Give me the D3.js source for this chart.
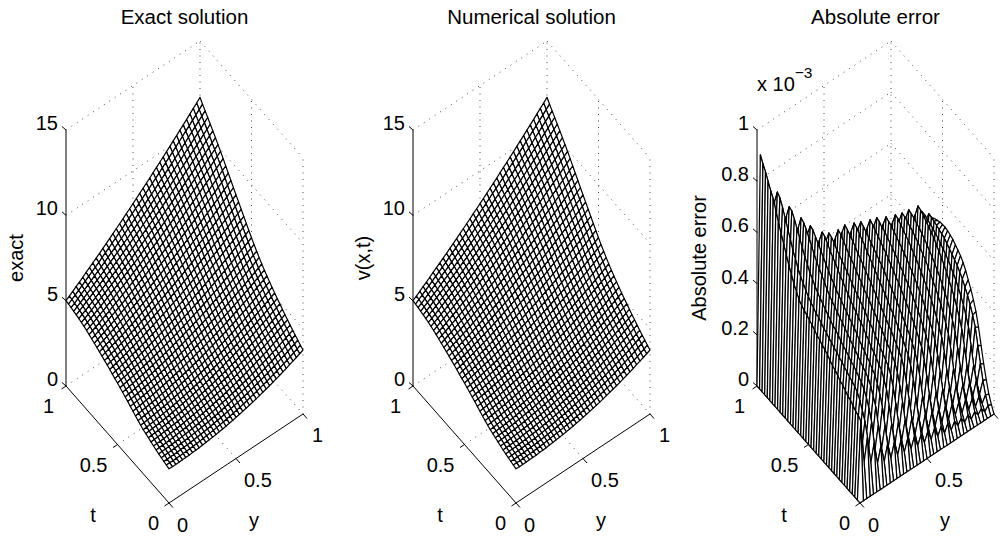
<!DOCTYPE html>
<html>
<head>
<meta charset="utf-8">
<script src="https://cdn.jsdelivr.net/npm/d3@7"></script>
<style>
html, body { margin: 0; padding: 0; background: #fff; }
svg { display: block; }
text { font-family: "Liberation Sans", Arial, sans-serif; fill: #000; }
</style>
</head>
<body>
<svg id="chart" width="1001" height="539"></svg>
<script>
var tTickValues = [0, 0.5, 1];
var yTickValues = [0, 0.5, 1];
var exactTicks = [0, 5, 10, 15];
var errorTicks = [0, 0.2, 0.4, 0.6, 0.8, 1];
var tGrid = [0,.025,.05,.075,.1,.125,.15,.175,.2,.225,.25,.275,.3,.325,.35,.375,.4,.425,.45,.475,.5,.525,.55,.575,.6,.625,.65,.675,.7,.725,.75,.775,.8,.825,.85,.875,.9,.925,.95,.975,1];
var yGrid = [0,.025,.05,.075,.1,.125,.15,.175,.2,.225,.25,.275,.3,.325,.35,.375,.4,.425,.45,.475,.5,.525,.55,.575,.6,.625,.65,.675,.7,.725,.75,.775,.8,.825,.85,.875,.9,.925,.95,.975,1];

// surface heights, one row per t, left to right along y
var exactRows = [
[2.00,2.00,2.00,2.00,2.01,2.01,2.02,2.04,2.05,2.06,2.09,2.11,2.14,2.16,2.18,2.22,2.25,2.28,2.33,2.36,2.41,2.45,2.50,2.55,2.60,2.65,2.71,2.77,2.84,2.90,2.96,3.03,3.10,3.17,3.25,3.32,3.41,3.49,3.57,3.66,3.75],
[2.05,2.05,2.05,2.06,2.06,2.07,2.08,2.10,2.11,2.13,2.15,2.18,2.20,2.23,2.26,2.29,2.33,2.36,2.40,2.44,2.49,2.53,2.58,2.63,2.68,2.74,2.80,2.86,2.92,2.98,3.05,3.12,3.19,3.26,3.34,3.42,3.50,3.58,3.67,3.76,3.86],
[2.09,2.09,2.10,2.10,2.11,2.13,2.14,2.15,2.17,2.19,2.22,2.24,2.27,2.30,2.33,2.37,2.41,2.44,2.48,2.53,2.58,2.62,2.67,2.73,2.78,2.84,2.90,2.96,3.03,3.09,3.15,3.23,3.31,3.38,3.46,3.54,3.63,3.71,3.80,3.89,3.98],
[2.14,2.145,2.15,2.16,2.17,2.19,2.20,2.22,2.24,2.26,2.29,2.32,2.35,2.38,2.41,2.45,2.49,2.53,2.57,2.62,2.67,2.72,2.77,2.83,2.88,2.94,3.00,3.07,3.13,3.20,3.27,3.34,3.42,3.49,3.58,3.66,3.74,3.83,3.92,4.01,4.10],
[2.19,2.20,2.21,2.22,2.23,2.25,2.27,2.29,2.31,2.33,2.36,2.39,2.42,2.45,2.49,2.53,2.57,2.61,2.66,2.71,2.76,2.81,2.86,2.92,2.98,3.04,3.10,3.17,3.23,3.30,3.38,3.45,3.53,3.61,3.69,3.77,3.86,3.95,4.03,4.13,4.22],
[2.25,2.26,2.27,2.28,2.30,2.32,2.34,2.36,2.39,2.41,2.44,2.47,2.51,2.54,2.58,2.62,2.66,2.71,2.76,2.80,2.85,2.91,2.96,3.02,3.08,3.15,3.21,3.28,3.35,3.42,3.50,3.57,3.65,3.73,3.81,3.90,3.99,4.07,4.16,4.26,4.35],
[2.31,2.32,2.335,2.35,2.37,2.39,2.41,2.44,2.46,2.49,2.53,2.56,2.60,2.63,2.67,2.71,2.76,2.81,2.85,2.91,2.96,3.02,3.07,3.13,3.19,3.26,3.33,3.40,3.47,3.54,3.62,3.69,3.77,3.85,3.94,4.03,4.12,4.21,4.30,4.39,4.49],
[2.38,2.39,2.41,2.43,2.45,2.47,2.50,2.52,2.55,2.58,2.62,2.65,2.69,2.73,2.77,2.82,2.86,2.91,2.96,3.01,3.07,3.13,3.18,3.24,3.31,3.37,3.44,3.51,3.58,3.65,3.73,3.81,3.89,3.98,4.06,4.15,4.24,4.33,4.43,4.52,4.62],
[2.45,2.47,2.48,2.50,2.53,2.55,2.58,2.61,2.64,2.67,2.70,2.74,2.78,2.82,2.87,2.91,2.96,3.01,3.06,3.12,3.17,3.23,3.30,3.36,3.42,3.49,3.56,3.63,3.71,3.78,3.86,3.94,4.02,4.11,4.19,4.28,4.37,4.47,4.56,4.66,4.76],
[2.52,2.54,2.56,2.58,2.61,2.63,2.66,2.69,2.73,2.76,2.80,2.84,2.88,2.92,2.97,3.02,3.07,3.12,3.18,3.23,3.29,3.35,3.42,3.48,3.55,3.62,3.69,3.77,3.84,3.92,4.00,4.08,4.17,4.25,4.34,4.43,4.52,4.62,4.72,4.81,4.91],
[2.58,2.60,2.62,2.65,2.68,2.71,2.74,2.77,2.81,2.84,2.88,2.92,2.97,3.01,3.06,3.11,3.16,3.22,3.28,3.34,3.40,3.46,3.52,3.59,3.66,3.73,3.80,3.88,3.95,4.03,4.12,4.20,4.29,4.37,4.46,4.55,4.65,4.75,4.85,4.95,5.05],
[2.67,2.69,2.72,2.75,2.77,2.81,2.84,2.87,2.91,2.95,2.99,3.04,3.08,3.13,3.18,3.23,3.29,3.34,3.40,3.46,3.52,3.59,3.65,3.72,3.79,3.86,3.94,4.01,4.09,4.17,4.26,4.34,4.43,4.52,4.61,4.71,4.80,4.90,5.00,5.10,5.20],
[2.77,2.79,2.82,2.85,2.88,2.92,2.95,2.99,3.03,3.07,3.11,3.16,3.20,3.25,3.31,3.36,3.42,3.47,3.53,3.59,3.66,3.72,3.79,3.86,3.93,4.01,4.08,4.16,4.24,4.32,4.41,4.49,4.58,4.67,4.76,4.86,4.95,5.05,5.15,5.26,5.36],
[2.87,2.90,2.93,2.96,2.99,3.02,3.06,3.10,3.14,3.18,3.23,3.28,3.32,3.38,3.43,3.48,3.54,3.60,3.66,3.72,3.79,3.86,3.93,4.00,4.08,4.15,4.23,4.31,4.39,4.47,4.56,4.65,4.74,4.83,4.92,5.02,5.12,5.22,5.32,5.42,5.52],
[2.98,3.01,3.04,3.07,3.11,3.14,3.18,3.22,3.27,3.31,3.36,3.41,3.46,3.51,3.56,3.62,3.68,3.74,3.80,3.87,3.94,4.00,4.07,4.15,4.22,4.30,4.38,4.46,4.54,4.63,4.72,4.81,4.90,4.99,5.08,5.18,5.28,5.38,5.48,5.58,5.69],
[3.09,3.12,3.15,3.19,3.22,3.26,3.30,3.34,3.39,3.43,3.48,3.53,3.59,3.64,3.70,3.75,3.81,3.88,3.94,4.01,4.08,4.15,4.22,4.30,4.37,4.45,4.53,4.62,4.70,4.79,4.87,4.97,5.06,5.15,5.25,5.35,5.45,5.55,5.65,5.76,5.86],
[3.20,3.23,3.27,3.30,3.35,3.39,3.43,3.47,3.52,3.57,3.62,3.67,3.73,3.78,3.84,3.90,3.97,4.03,4.10,4.16,4.23,4.31,4.38,4.46,4.54,4.62,4.70,4.78,4.87,4.95,5.04,5.14,5.23,5.33,5.42,5.52,5.62,5.73,5.83,5.94,6.05],
[3.30,3.34,3.37,3.41,3.46,3.50,3.55,3.59,3.64,3.70,3.75,3.80,3.86,3.92,3.98,4.05,4.11,4.18,4.25,4.32,4.39,4.47,4.54,4.62,4.70,4.78,4.87,4.95,5.04,5.13,5.23,5.32,5.42,5.51,5.61,5.72,5.82,5.93,6.03,6.14,6.25],
[3.40,3.44,3.48,3.52,3.57,3.62,3.66,3.71,3.77,3.82,3.88,3.94,4.00,4.06,4.12,4.19,4.26,4.33,4.40,4.47,4.55,4.62,4.70,4.78,4.87,4.95,5.04,5.13,5.22,5.31,5.40,5.50,5.60,5.70,5.80,5.90,6.01,6.12,6.23,6.34,6.45],
[3.50,3.54,3.59,3.63,3.68,3.73,3.78,3.84,3.89,3.95,4.01,4.07,4.14,4.20,4.27,4.34,4.41,4.48,4.56,4.63,4.71,4.79,4.88,4.96,5.04,5.13,5.22,5.31,5.41,5.50,5.60,5.70,5.80,5.90,6.01,6.11,6.22,6.33,6.44,6.56,6.67],
[3.60,3.65,3.69,3.74,3.80,3.85,3.91,3.96,4.02,4.08,4.15,4.21,4.28,4.35,4.42,4.49,4.56,4.64,4.72,4.80,4.88,4.96,5.05,5.14,5.22,5.31,5.41,5.50,5.60,5.70,5.80,5.90,6.00,6.11,6.21,6.32,6.44,6.55,6.67,6.78,6.90],
[3.69,3.74,3.79,3.85,3.90,3.96,4.02,4.08,4.15,4.21,4.28,4.35,4.42,4.50,4.57,4.65,4.72,4.80,4.89,4.97,5.06,5.15,5.23,5.32,5.42,5.51,5.61,5.71,5.81,5.91,6.01,6.11,6.22,6.33,6.44,6.55,6.67,6.78,6.90,7.02,7.14],
[3.78,3.84,3.89,3.95,4.01,4.08,4.14,4.21,4.27,4.34,4.41,4.49,4.56,4.64,4.72,4.80,4.88,4.96,5.05,5.14,5.23,5.32,5.41,5.50,5.60,5.70,5.80,5.90,6.01,6.11,6.22,6.33,6.44,6.55,6.67,6.79,6.90,7.02,7.14,7.27,7.39],
[3.88,3.94,4.00,4.06,4.13,4.19,4.26,4.33,4.40,4.47,4.55,4.63,4.71,4.79,4.87,4.95,5.04,5.13,5.22,5.31,5.40,5.49,5.59,5.69,5.79,5.89,5.99,6.10,6.21,6.32,6.43,6.54,6.65,6.77,6.88,7.01,7.13,7.25,7.38,7.50,7.63],
[3.97,4.03,4.10,4.17,4.23,4.30,4.38,4.45,4.53,4.60,4.68,4.76,4.85,4.93,5.02,5.11,5.20,5.29,5.38,5.48,5.58,5.67,5.77,5.88,5.98,6.08,6.19,6.30,6.41,6.52,6.64,6.76,6.87,6.99,7.11,7.23,7.36,7.49,7.62,7.75,7.88],
[4.06,4.13,4.20,4.27,4.34,4.42,4.49,4.57,4.65,4.73,4.82,4.90,4.99,5.08,5.17,5.26,5.36,5.45,5.55,5.65,5.75,5.85,5.96,6.06,6.17,6.28,6.39,6.51,6.62,6.74,6.86,6.98,7.10,7.22,7.35,7.47,7.60,7.73,7.87,8.00,8.13],
[4.15,4.22,4.30,4.37,4.45,4.53,4.60,4.69,4.78,4.86,4.95,5.04,5.13,5.23,5.32,5.42,5.52,5.62,5.72,5.82,5.93,6.04,6.14,6.25,6.36,6.48,6.59,6.71,6.83,6.95,7.07,7.19,7.32,7.44,7.57,7.70,7.84,7.97,8.11,8.24,8.38],
[4.23,4.31,4.39,4.47,4.55,4.63,4.72,4.80,4.89,4.99,5.08,5.17,5.27,5.37,5.47,5.57,5.67,5.77,5.88,5.99,6.10,6.21,6.32,6.44,6.55,6.67,6.79,6.91,7.03,7.15,7.28,7.41,7.54,7.66,7.80,7.93,8.07,8.20,8.34,8.49,8.63],
[4.31,4.39,4.48,4.56,4.65,4.73,4.83,4.92,5.01,5.11,5.21,5.30,5.40,5.50,5.61,5.71,5.82,5.92,6.04,6.15,6.26,6.38,6.49,6.61,6.73,6.86,6.98,7.10,7.23,7.36,7.49,7.62,7.75,7.89,8.02,8.16,8.30,8.45,8.59,8.73,8.88],
[4.39,4.48,4.57,4.65,4.75,4.84,4.93,5.03,5.13,5.23,5.33,5.43,5.54,5.65,5.76,5.87,5.98,6.09,6.21,6.33,6.45,6.56,6.69,6.81,6.93,7.06,7.19,7.32,7.45,7.58,7.71,7.85,7.99,8.13,8.27,8.41,8.55,8.70,8.85,8.99,9.14],
[4.47,4.56,4.66,4.75,4.85,4.95,5.05,5.15,5.25,5.35,5.46,5.57,5.68,5.79,5.90,6.02,6.13,6.25,6.37,6.49,6.61,6.73,6.86,6.98,7.11,7.24,7.38,7.51,7.64,7.78,7.92,8.06,8.20,8.34,8.49,8.63,8.78,8.93,9.08,9.24,9.39],
[4.55,4.65,4.74,4.84,4.95,5.05,5.15,5.26,5.37,5.48,5.59,5.70,5.82,5.93,6.05,6.17,6.29,6.41,6.53,6.66,6.79,6.91,7.04,7.18,7.31,7.45,7.58,7.72,7.86,8.00,8.14,8.29,8.43,8.58,8.73,8.88,9.03,9.18,9.34,9.49,9.65],
[4.62,4.72,4.83,4.93,5.04,5.14,5.25,5.37,5.48,5.59,5.71,5.82,5.94,6.06,6.19,6.31,6.43,6.56,6.69,6.82,6.95,7.08,7.22,7.35,7.49,7.63,7.77,7.91,8.05,8.20,8.35,8.50,8.65,8.80,8.95,9.10,9.26,9.42,9.58,9.74,9.90],
[4.69,4.80,4.90,5.01,5.12,5.23,5.35,5.46,5.58,5.70,5.82,5.94,6.07,6.19,6.32,6.44,6.57,6.70,6.84,6.97,7.11,7.24,7.38,7.52,7.66,7.81,7.95,8.10,8.24,8.39,8.54,8.69,8.85,9.00,9.16,9.31,9.47,9.64,9.80,9.96,10.13],
[4.75,4.86,4.97,5.09,5.20,5.32,5.44,5.56,5.68,5.80,5.93,6.05,6.18,6.31,6.44,6.57,6.71,6.84,6.98,7.12,7.26,7.40,7.54,7.68,7.83,7.98,8.12,8.27,8.43,8.58,8.73,8.89,9.05,9.20,9.36,9.53,9.69,9.85,10.02,10.19,10.36],
[4.80,4.92,5.03,5.15,5.27,5.39,5.52,5.64,5.77,5.90,6.03,6.16,6.29,6.42,6.56,6.69,6.83,6.97,7.11,7.26,7.40,7.55,7.69,7.84,7.99,8.14,8.30,8.45,8.61,8.77,8.92,9.08,9.25,9.41,9.57,9.74,9.91,10.08,10.25,10.42,10.59],
[4.85,4.97,5.09,5.22,5.34,5.47,5.60,5.73,5.86,5.99,6.12,6.26,6.39,6.53,6.67,6.81,6.95,7.10,7.24,7.39,7.54,7.69,7.84,8.00,8.15,8.30,8.47,8.62,8.78,8.94,9.11,9.27,9.44,9.60,9.77,9.94,10.11,10.28,10.46,10.63,10.81],
[4.89,5.02,5.14,5.27,5.40,5.53,5.67,5.80,5.93,6.07,6.21,6.35,6.49,6.64,6.78,6.93,7.07,7.22,7.37,7.53,7.68,7.83,7.98,8.14,8.30,8.46,8.62,8.78,8.95,9.11,9.28,9.45,9.62,9.79,9.97,10.14,10.32,10.49,10.67,10.85,11.03],
[4.93,5.06,5.19,5.33,5.46,5.60,5.74,5.88,6.01,6.15,6.30,6.44,6.59,6.73,6.88,7.03,7.19,7.34,7.49,7.65,7.81,7.97,8.12,8.29,8.45,8.61,8.78,8.95,9.11,9.28,9.45,9.63,9.80,9.97,10.15,10.34,10.52,10.70,10.88,11.06,11.25],
[4.97,5.11,5.24,5.38,5.52,5.66,5.81,5.95,6.09,6.23,6.39,6.54,6.69,6.84,7.00,7.15,7.31,7.47,7.63,7.79,7.95,8.11,8.28,8.45,8.61,8.78,8.95,9.12,9.30,9.47,9.64,9.82,10.00,10.18,10.36,10.54,10.72,10.91,11.09,11.28,11.47],
[5.00,5.14,5.28,5.43,5.57,5.72,5.87,6.02,6.17,6.32,6.47,6.63,6.78,6.94,7.10,7.26,7.42,7.58,7.75,7.91,8.08,8.25,8.42,8.59,8.76,8.93,9.11,9.29,9.46,9.64,9.82,10.00,10.19,10.37,10.56,10.74,10.93,11.12,11.31,11.50,11.70]
];

// error heights (x 10^-3), one column per y, listed from t = 0 to t = 1
var errorColumns = [
[0,0,0,0,0,0,0,0,0,0,0,0,0,0,0,0,0,0,0,0,0,0,0,0,0,0,0,0,0,0,0,0,0,0,0,0,0,0,0,0,0],
[0,.30,.31,.315,.325,.335,.34,.35,.36,.365,.375,.385,.39,.40,.41,.42,.425,.435,.44,.45,.46,.465,.475,.48,.49,.50,.52,.54,.565,.59,.62,.65,.68,.71,.745,.78,.80,.825,.85,.87,.894],
[0,.13,.16,.17,.18,.19,.195,.20,.205,.21,.21,.215,.22,.225,.23,.235,.24,.24,.245,.25,.255,.26,.265,.27,.275,.28,.29,.30,.31,.325,.34,.36,.375,.39,.41,.425,.43,.425,.42,.41,.40],
[0,.22,.27,.30,.33,.35,.36,.37,.375,.385,.39,.40,.405,.415,.42,.43,.435,.445,.45,.46,.47,.475,.485,.495,.505,.52,.535,.55,.57,.595,.62,.65,.68,.71,.74,.765,.777,.73,.68,.63,.58],
[0,.11,.145,.165,.18,.19,.20,.205,.205,.21,.215,.22,.225,.23,.235,.24,.24,.245,.25,.255,.26,.26,.27,.275,.28,.29,.30,.31,.32,.33,.35,.365,.38,.395,.40,.39,.37,.35,.33,.30,.28],
[0,.18,.25,.29,.32,.345,.36,.37,.38,.39,.395,.405,.415,.42,.43,.44,.45,.455,.465,.475,.485,.495,.505,.515,.53,.545,.56,.58,.60,.625,.65,.675,.70,.72,.725,.68,.635,.59,.545,.50,.46],
[0,.09,.13,.16,.175,.19,.20,.205,.21,.215,.22,.225,.23,.235,.24,.245,.25,.255,.26,.265,.27,.275,.28,.29,.30,.305,.315,.325,.335,.35,.36,.37,.375,.37,.355,.34,.315,.29,.27,.245,.225],
[0,.15,.22,.28,.31,.34,.36,.37,.38,.39,.40,.41,.42,.43,.44,.45,.46,.47,.48,.49,.50,.51,.525,.54,.555,.57,.585,.605,.625,.645,.665,.68,.687,.64,.595,.55,.505,.465,.425,.39,.36],
[0,.08,.12,.15,.17,.185,.195,.20,.21,.215,.22,.225,.23,.235,.245,.25,.255,.26,.265,.27,.275,.28,.285,.29,.30,.31,.32,.33,.34,.35,.36,.365,.35,.33,.31,.285,.265,.24,.22,.20,.185],
[0,.14,.20,.26,.30,.33,.355,.365,.38,.39,.40,.41,.42,.435,.445,.455,.465,.475,.485,.495,.505,.515,.53,.54,.555,.57,.585,.60,.615,.63,.645,.65,.61,.565,.52,.48,.44,.405,.37,.34,.31],
[0,.075,.11,.14,.165,.18,.195,.20,.21,.215,.22,.225,.23,.24,.245,.25,.255,.26,.265,.27,.28,.285,.29,.30,.305,.315,.32,.33,.34,.345,.335,.32,.30,.28,.26,.24,.22,.205,.19,.175,.16],
[0,.13,.19,.25,.30,.33,.355,.365,.38,.39,.40,.415,.425,.44,.45,.46,.47,.48,.49,.505,.515,.53,.54,.555,.57,.58,.595,.61,.625,.631,.59,.55,.51,.47,.43,.395,.365,.335,.31,.285,.265],
[0,.07,.105,.135,.16,.18,.195,.20,.21,.215,.22,.23,.235,.24,.25,.255,.26,.265,.27,.275,.28,.29,.295,.30,.31,.315,.32,.325,.335,.34,.32,.30,.28,.26,.235,.215,.20,.18,.17,.155,.145],
[0,.12,.18,.24,.29,.33,.355,.365,.38,.39,.405,.415,.43,.44,.45,.465,.475,.485,.495,.505,.515,.53,.54,.55,.56,.57,.58,.595,.605,.61,.57,.53,.49,.455,.42,.385,.355,.325,.30,.28,.26],
[0,.065,.10,.13,.155,.18,.195,.20,.21,.215,.225,.23,.235,.245,.25,.255,.26,.265,.27,.28,.285,.29,.295,.30,.31,.315,.32,.33,.335,.315,.295,.275,.255,.235,.215,.20,.18,.17,.155,.145,.135],
[0,.11,.17,.23,.28,.32,.35,.365,.38,.39,.405,.42,.43,.445,.455,.465,.48,.49,.50,.515,.525,.535,.55,.56,.57,.585,.595,.61,.616,.575,.535,.495,.46,.425,.39,.36,.33,.305,.28,.26,.24],
[0,.06,.095,.125,.15,.175,.19,.20,.21,.215,.225,.23,.24,.245,.255,.26,.265,.27,.275,.285,.29,.295,.30,.31,.315,.32,.33,.335,.34,.32,.295,.275,.255,.235,.215,.20,.18,.17,.155,.145,.135],
[0,.10,.16,.22,.27,.32,.35,.365,.38,.395,.41,.42,.435,.445,.46,.47,.485,.495,.51,.52,.53,.545,.555,.565,.58,.59,.60,.61,.618,.58,.54,.50,.465,.43,.395,.365,.335,.31,.285,.265,.245],
[0,.055,.09,.12,.15,.17,.19,.20,.21,.22,.23,.235,.24,.25,.255,.265,.27,.28,.285,.29,.295,.30,.31,.315,.32,.33,.335,.34,.32,.30,.275,.255,.235,.22,.20,.185,.17,.155,.145,.135,.13],
[0,.09,.15,.21,.27,.31,.345,.36,.38,.395,.41,.425,.44,.45,.465,.48,.49,.505,.515,.53,.54,.555,.565,.58,.59,.60,.612,.62,.58,.54,.505,.47,.435,.40,.37,.34,.315,.29,.27,.25,.23],
[0,.05,.08,.115,.145,.17,.185,.20,.21,.225,.23,.24,.245,.25,.26,.265,.27,.28,.285,.29,.295,.30,.31,.315,.32,.33,.335,.34,.32,.295,.275,.255,.235,.22,.20,.185,.17,.155,.145,.135,.125],
[0,.085,.14,.20,.26,.305,.34,.36,.38,.395,.41,.425,.44,.455,.47,.48,.495,.505,.52,.53,.54,.55,.56,.57,.58,.59,.60,.607,.57,.53,.495,.46,.425,.39,.36,.335,.31,.285,.265,.245,.23],
[0,.045,.075,.11,.14,.165,.185,.20,.21,.22,.23,.24,.245,.255,.26,.265,.275,.28,.29,.295,.30,.31,.315,.32,.325,.33,.335,.32,.295,.275,.255,.235,.215,.20,.185,.17,.16,.145,.135,.13,.12],
[0,.08,.13,.19,.25,.30,.34,.36,.38,.40,.415,.43,.445,.46,.475,.49,.50,.515,.525,.54,.55,.56,.57,.58,.59,.60,.609,.57,.53,.495,.46,.425,.39,.36,.335,.31,.285,.265,.245,.23,.215],
[0,.04,.07,.105,.135,.165,.185,.20,.21,.22,.23,.24,.25,.255,.265,.27,.28,.285,.29,.30,.30,.31,.315,.32,.325,.33,.33,.31,.29,.27,.25,.23,.21,.195,.18,.17,.155,.145,.135,.125,.12],
[0,.07,.125,.18,.24,.295,.335,.36,.38,.40,.42,.435,.45,.465,.48,.49,.505,.515,.53,.54,.55,.56,.57,.58,.585,.595,.60,.56,.525,.49,.455,.42,.39,.36,.335,.31,.285,.265,.245,.23,.215],
[0,.035,.065,.10,.13,.16,.18,.20,.21,.22,.23,.24,.25,.26,.265,.275,.28,.285,.295,.30,.305,.31,.315,.32,.325,.33,.31,.29,.27,.25,.23,.215,.20,.185,.17,.155,.145,.135,.125,.12,.11],
[0,.065,.12,.175,.23,.285,.33,.36,.38,.40,.42,.44,.455,.47,.485,.50,.51,.525,.535,.545,.555,.565,.575,.585,.59,.597,.56,.525,.49,.455,.42,.39,.36,.335,.31,.285,.265,.245,.23,.215,.20],
[0,.03,.06,.095,.125,.155,.18,.195,.21,.22,.235,.245,.25,.26,.27,.275,.285,.29,.295,.30,.31,.315,.32,.325,.33,.31,.29,.27,.25,.23,.215,.20,.185,.17,.155,.145,.135,.125,.12,.11,.105],
[0,.055,.11,.165,.22,.28,.325,.355,.38,.405,.425,.445,.46,.475,.49,.505,.52,.53,.545,.555,.565,.575,.585,.595,.599,.56,.525,.49,.455,.42,.39,.36,.335,.31,.285,.265,.245,.23,.215,.20,.19],
[0,.03,.06,.09,.12,.15,.175,.195,.21,.22,.235,.245,.25,.26,.27,.28,.285,.29,.30,.305,.31,.315,.32,.325,.325,.31,.285,.265,.245,.23,.21,.195,.18,.17,.155,.145,.135,.125,.115,.11,.10],
[0,.05,.10,.155,.21,.27,.32,.35,.38,.405,.425,.445,.46,.48,.495,.51,.52,.535,.545,.555,.565,.57,.58,.585,.589,.55,.515,.48,.445,.415,.385,.355,.33,.305,.28,.26,.24,.225,.21,.195,.185],
[0,.025,.05,.085,.115,.145,.17,.19,.21,.22,.23,.24,.25,.26,.27,.275,.285,.29,.295,.305,.31,.31,.32,.32,.32,.30,.28,.265,.245,.225,.21,.195,.18,.165,.155,.14,.13,.125,.115,.105,.10],
[0,.045,.09,.14,.20,.26,.31,.345,.375,.40,.42,.44,.46,.475,.49,.505,.515,.53,.54,.55,.56,.565,.575,.58,.584,.545,.51,.475,.44,.41,.38,.35,.325,.30,.275,.255,.235,.22,.205,.19,.18],
[0,.02,.045,.075,.105,.135,.17,.19,.205,.22,.23,.24,.25,.26,.27,.275,.285,.29,.30,.30,.31,.315,.32,.32,.30,.285,.265,.245,.225,.21,.195,.18,.17,.155,.145,.13,.12,.115,.105,.10,.095],
[0,.04,.08,.13,.185,.25,.305,.34,.37,.40,.42,.44,.46,.48,.495,.51,.525,.54,.55,.56,.57,.58,.588,.593,.55,.515,.48,.445,.41,.38,.35,.325,.30,.275,.255,.235,.22,.205,.19,.18,.17],
[0,.02,.04,.07,.10,.13,.165,.185,.205,.22,.225,.24,.25,.26,.265,.27,.28,.285,.29,.295,.30,.30,.305,.31,.30,.28,.26,.24,.22,.205,.19,.175,.165,.15,.14,.13,.12,.11,.105,.10,.09],
[0,.035,.07,.12,.17,.235,.295,.33,.36,.385,.405,.425,.44,.455,.47,.48,.49,.50,.51,.515,.525,.53,.535,.54,.541,.505,.47,.44,.41,.38,.35,.325,.30,.275,.255,.235,.22,.205,.19,.18,.17],
[0,.015,.035,.06,.09,.12,.16,.18,.195,.21,.22,.23,.24,.25,.255,.26,.265,.27,.275,.28,.285,.285,.29,.29,.29,.27,.25,.235,.22,.205,.19,.175,.16,.15,.14,.13,.12,.11,.105,.095,.09],
[0,.03,.06,.105,.16,.22,.28,.315,.345,.37,.39,.41,.425,.44,.45,.46,.47,.48,.49,.495,.50,.505,.51,.513,.516,.485,.455,.425,.395,.37,.345,.32,.295,.27,.25,.23,.215,.20,.185,.175,.165],
[0,.025,.055,.10,.15,.21,.27,.32,.355,.385,.41,.435,.455,.47,.48,.49,.50,.505,.51,.513,.512,.51,.505,.50,.49,.48,.47,.455,.44,.425,.41,.39,.37,.35,.33,.31,.29,.27,.25,.23,.21]
];

var svg = d3.select("#chart");

// the box is drawn as three oblique directions added together
var tX = d3.scaleLinear().domain([0, 1]).range([103, 0]);
var tY = d3.scaleLinear().domain([0, 1]).range([117, 0]);
var yX = d3.scaleLinear().domain([0, 1]).range([0, 134]);
var yY = d3.scaleLinear().domain([0, 1]).range([0, -89]);
var floorY = 386;
var pageWidth = 1001;

function drawPanel(left, title, zLabel, zLabelX, zMax, zTicks, heightAt) {
	var zS = d3.scaleLinear().domain([0, zMax]).range([0, -256]);
	var g = svg.append("g").attr("transform", `translate(${left},${floorY})`);
	var px = (t, y) => tX(t) + yX(y);
	var py = (t, y, z) => tY(t) + yY(y) + zS(z);
	var seg = (a, b) => d3.line()([a, b]);
	var at = (t, y, z) => [px(t, y), py(t, y, z)];

	// dotted grid on the floor and the two back walls
	var grid = [];
	tTickValues.filter(t => t > 0 && t < 1).forEach(t => {
		grid.push(seg(at(t, 0, 0), at(t, 1, 0)));
		grid.push(seg(at(t, 1, 0), at(t, 1, zMax)));
	});
	yTickValues.filter(y => y > 0 && y < 1).forEach(y => {
		grid.push(seg(at(0, y, 0), at(1, y, 0)));
		grid.push(seg(at(1, y, 0), at(1, y, zMax)));
	});
	zTicks.forEach(z => {
		grid.push(seg(at(1, 0, z), at(1, 1, z)));
		grid.push(seg(at(1, 1, z), at(0, 1, z)));
	});
	grid.push(seg(at(1, 1, 0), at(1, 1, zMax)));
	grid.push(seg(at(0, 1, 0), at(0, 1, zMax)));
	g.append("g").selectAll("path").data(grid).join("path")
		.attr("d", d => d)
		.attr("fill", "none")
		.attr("stroke", "#000")
		.attr("stroke-width", 0.7)
		.attr("stroke-dasharray", "1 5.5");

	// the three solid axes and their ticks
	var axes = [
		seg(at(1, 0, 0), at(1, 0, zMax)),
		seg(at(1, 0, 0), at(0, 0, 0)),
		seg(at(0, 0, 0), at(0, 1, 0))
	];
	zTicks.forEach(z => {
		axes.push(d3.line()([at(1, 0, z), [px(1, 0) - 4, py(1, 0, z) - 3.5]]));
	});
	tTickValues.forEach(t => {
		axes.push(d3.line()([at(t, 0, 0), [px(t, 0) - 4.5, py(t, 0, 0) + 3]]));
	});
	yTickValues.forEach(y => {
		axes.push(d3.line()([at(0, y, 0), [px(0, y) + 4, py(0, y, 0) + 4.5]]));
	});
	g.append("g").selectAll("path").data(axes).join("path")
		.attr("d", d => d)
		.attr("fill", "none")
		.attr("stroke", "#000")
		.attr("stroke-width", 1);

	// mesh quads, far corner first so nearer ones cover them
	var cells = [];
	for (var i = tGrid.length - 2; i >= 0; i--) {
		for (var j = yGrid.length - 2; j >= 0; j--) {
			cells.push([[i, j], [i + 1, j], [i + 1, j + 1], [i, j + 1]]);
		}
	}
	var poly = d3.line().curve(d3.curveLinearClosed)
		.x(d => px(tGrid[d[0]], yGrid[d[1]]))
		.y(d => py(tGrid[d[0]], yGrid[d[1]], heightAt(d[0], d[1])));
	g.append("g").selectAll("path").data(cells).join("path")
		.attr("d", poly)
		.attr("fill", "#fff")
		.attr("stroke", "#000")
		.attr("stroke-width", 1.2)
		.attr("stroke-linejoin", "round");

	// labels
	var font = 20;
	var label = (x, y, s, anchor) => g.append("text")
		.attr("x", x).attr("y", y)
		.attr("text-anchor", anchor || "middle")
		.attr("font-size", font)
		.text(s);
	label(118.5, -362, title).attr("font-size", 20.5);
	zTicks.forEach(z => label(-8, py(1, 0, z), String(z), "end"));
	label(-12, 27, "1", "end");
	label(41.5, 86, "0.5", "end");
	label(93, 144, "0", "end");
	label(27, 136, "t");
	label(111, 146, "0", "start");
	label(178, 101, "0.5", "start");
	if (left + 246 < pageWidth) label(246, 56, "1", "start"); // falls off the page in the last panel
	label(188, 141, "y");
	g.append("text")
		.attr("transform", `translate(${zLabelX},-128) rotate(-90)`)
		.attr("text-anchor", "middle")
		.attr("font-size", font)
		.text(zLabel);
	return g;
}

drawPanel(66, "Exact solution", "exact", -43, 15, exactTicks, (i, j) => exactRows[i][j]);
drawPanel(413, "Numerical solution", "v(x,t)", -43, 15, exactTicks, (i, j) => exactRows[i][j]);
var errorPanel = drawPanel(757, "Absolute error", "Absolute error", -51, 1, errorTicks, (i, j) => errorColumns[j][i]);

var mult = errorPanel.append("text").attr("x", 0).attr("y", -295).attr("font-size", 20);
mult.append("tspan").text("x 10");
mult.append("tspan").attr("dy", -13).attr("font-size", 15.5).text("\u22123");
</script>
</body>
</html>
